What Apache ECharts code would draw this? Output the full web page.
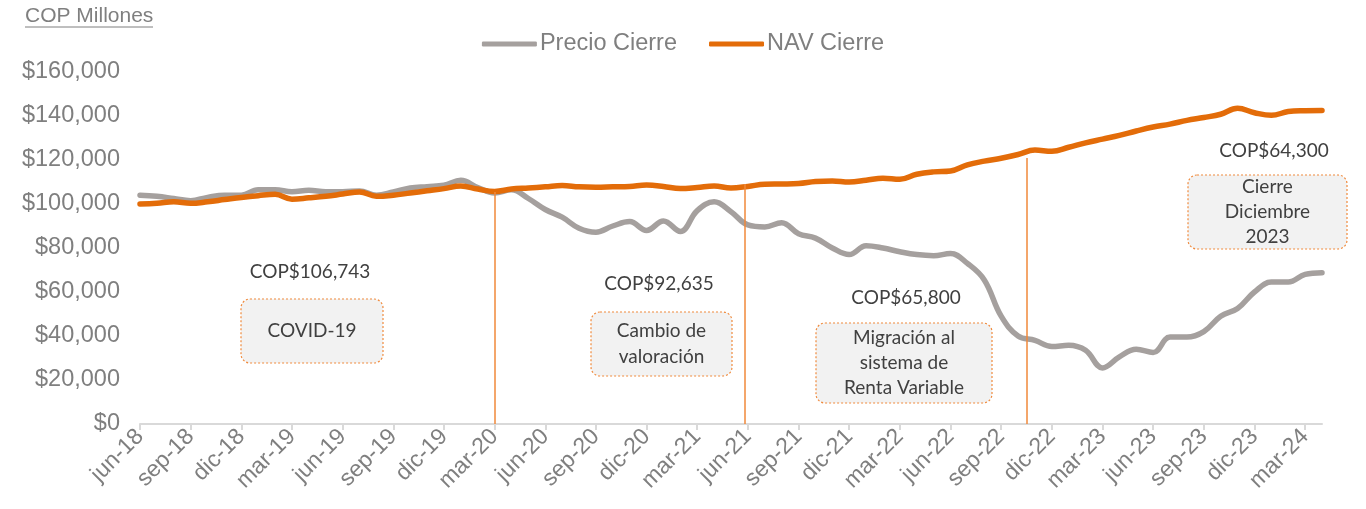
<!DOCTYPE html>
<html>
<head>
<meta charset="utf-8">
<script src="https://cdn.jsdelivr.net/npm/echarts@6/dist/echarts.min.js"></script>
<style>
html,body{margin:0;padding:0;background:#fff;}
#chart{width:1366px;height:509px;}
</style>
</head>
<body>
<div id="chart"></div>
<script>
const months = ['jun-18','jul-18','ago-18','sep-18','oct-18','nov-18','dic-18',
'ene-19','feb-19','mar-19','abr-19','may-19','jun-19','jul-19','ago-19','sep-19','oct-19','nov-19','dic-19',
'ene-20','feb-20','mar-20','abr-20','may-20','jun-20','jul-20','ago-20','sep-20','oct-20','nov-20','dic-20',
'ene-21','feb-21','mar-21','abr-21','may-21','jun-21','jul-21','ago-21','sep-21','oct-21','nov-21','dic-21',
'ene-22','feb-22','mar-22','abr-22','may-22','jun-22','jul-22','ago-22','sep-22','oct-22','nov-22','dic-22',
'ene-23','feb-23','mar-23','abr-23','may-23','jun-23','jul-23','ago-23','sep-23','oct-23','nov-23','dic-23',
'ene-24','feb-24','mar-24','abr-24'];

const tickLabels = ['jun-18','sep-18','dic-18','mar-19','jun-19','sep-19','dic-19','mar-20','jun-20','sep-20','dic-20','mar-21',
'jun-21','sep-21','dic-21','mar-22','jun-22','sep-22','dic-22','mar-23','jun-23','sep-23','dic-23','mar-24'];

const precioCierre = [104000,103500,102500,101500,103000,104000,104000,106500,106500,105600,
106200,105600,105600,105900,104000,105500,107300,107900,108500,110800,
107500,105000,106500,102500,97500,94000,89000,87200,90000,92000,
88000,92300,87500,97000,101000,96500,90500,89600,91500,86500,
84500,80000,77000,81000,80000,78300,77000,76500,77500,73000,
65500,49000,40000,38000,35200,35800,33500,25500,30500,34000,
32500,39500,39500,42000,49000,52500,60000,64500,64500,68000,
68800];

const navCierre = [100000,100300,101000,100300,101000,102000,103000,103800,104400,102200,
102800,103500,104500,105500,103500,104000,105000,106000,107000,108200,
106800,105700,106800,107300,107800,108400,107800,107600,107800,108000,
108600,108000,107000,107500,108200,107300,108000,109000,109100,109300,
110200,110500,110000,110800,111700,111200,113500,114600,115000,117800,
119500,120800,122500,124500,124000,125800,127800,129500,131200,133200,
135000,136300,138000,139300,140800,143500,141500,140300,142000,142400,
142500];

// Event markers: month position (index in months) and top value of the line
const eventMonths = [21, 35.8, 52.5];
const eventTops = [105500, 109100, 120900];

const valueLabels = ['COP$106,743','COP$92,635','COP$65,800','COP$64,300'];
const boxTexts = ['COVID-19','Cambio de\nvaloración','Migración al\nsistema de\nRenta Variable','Cierre\nDiciembre\n2023'];

const tickPositions = tickLabels.map(l => months.indexOf(l));

const chart = echarts.init(document.getElementById('chart'));
const gray = '#a5a09e';
const orange = '#e36c09';
const axisGray = '#7f7f7f';
const annFont = '19px Lato';
const annColor = '#404040';

function box(x, y, w, h, text, lh) {
  return [
    {type:'rect', shape:{x:x, y:y, width:w, height:h, r:9},
     style:{fill:'#f2f2f2', stroke:'#f08a3c', lineWidth:1.2, lineDash:[2,2]}, z:10},
    {type:'text', x:x + w/2, y:y + h/2,
     style:{text:text, font:annFont, fill:annColor, align:'center', verticalAlign:'middle', lineHeight:lh}, z:11}
  ];
}
function label(x, y, text) {
  return {type:'text', x:x, y:y, style:{text:text, font:annFont, fill:annColor, align:'center', verticalAlign:'middle'}, z:11};
}

const graphics = [
  {type:'text', left:25, top:6, style:{text:'COP Millones', font:'21px "Liberation Sans"', fill:axisGray}},
  {type:'line', shape:{x1:25, y1:27, x2:153, y2:27}, style:{stroke:axisGray, lineWidth:1}},
  label(310, 272, valueLabels[0]),
  label(659, 284, valueLabels[1]),
  label(906, 298, valueLabels[2]),
  label(1274, 151, valueLabels[3]),
  ...box(241, 299, 142, 64, boxTexts[0], 25),
  ...box(591, 312, 141, 64, boxTexts[1], 25.5),
  ...box(816, 323, 176, 80, boxTexts[2], 25),
  ...box(1188, 175, 159, 74, boxTexts[3], 24.7)
];

const option = {
  animation:false,
  grid:{left:140, right:44, top:72, bottom:85, containLabel:false},
  legend:{
    top:27, left:'center', itemWidth:55, itemHeight:5, itemGap:32, icon:'roundRect',
    textStyle:{fontFamily:'Liberation Sans', fontSize:23.5, color:axisGray, padding:[0,0,0,-2]},
    data:['Precio Cierre','NAV Cierre']
  },
  xAxis:{
    type:'value', min:0, max:months.length-1,
    axisLine:{show:true, lineStyle:{color:'#d9d9d9', width:2}},
    axisTick:{show:true, length:6, lineStyle:{color:'#d9d9d9', width:2}, customValues:tickPositions},
    axisLabel:{customValues:tickPositions, rotate:45, margin:9, color:axisGray,
      fontFamily:'Liberation Sans', fontSize:23, formatter:v => months[v]},
    splitLine:{show:false}
  },
  yAxis:{
    type:'value', min:0, max:160000, interval:20000,
    axisLine:{show:false}, axisTick:{show:false}, splitLine:{show:false},
    axisLabel:{color:axisGray, fontFamily:'Liberation Sans', fontSize:23.5, margin:20,
      formatter:v => '$' + v.toLocaleString('en-US')}
  },
  series:[
    {name:'Precio Cierre', type:'line', smooth:0.4, showSymbol:false,
     data:precioCierre.map((v,i)=>[i,v]), color:gray,
     lineStyle:{color:gray, width:5.5, cap:'round', join:'round'}, z:2},
    {name:'NAV Cierre', type:'line', smooth:0.4, showSymbol:false,
     data:navCierre.map((v,i)=>[i,v]), color:orange,
     lineStyle:{color:orange, width:5.5, cap:'round', join:'round'}, z:3,
     markLine:{silent:true, symbol:'none', animation:false, label:{show:false},
       lineStyle:{color:'#f0883a', width:1.5, type:'solid'},
       data:eventMonths.map((m,k)=>[{coord:[m, eventTops[k]]},{coord:[m, 0]}])}
    }
  ],
  graphic:graphics
};
chart.setOption(option);
</script>
</body>
</html>
